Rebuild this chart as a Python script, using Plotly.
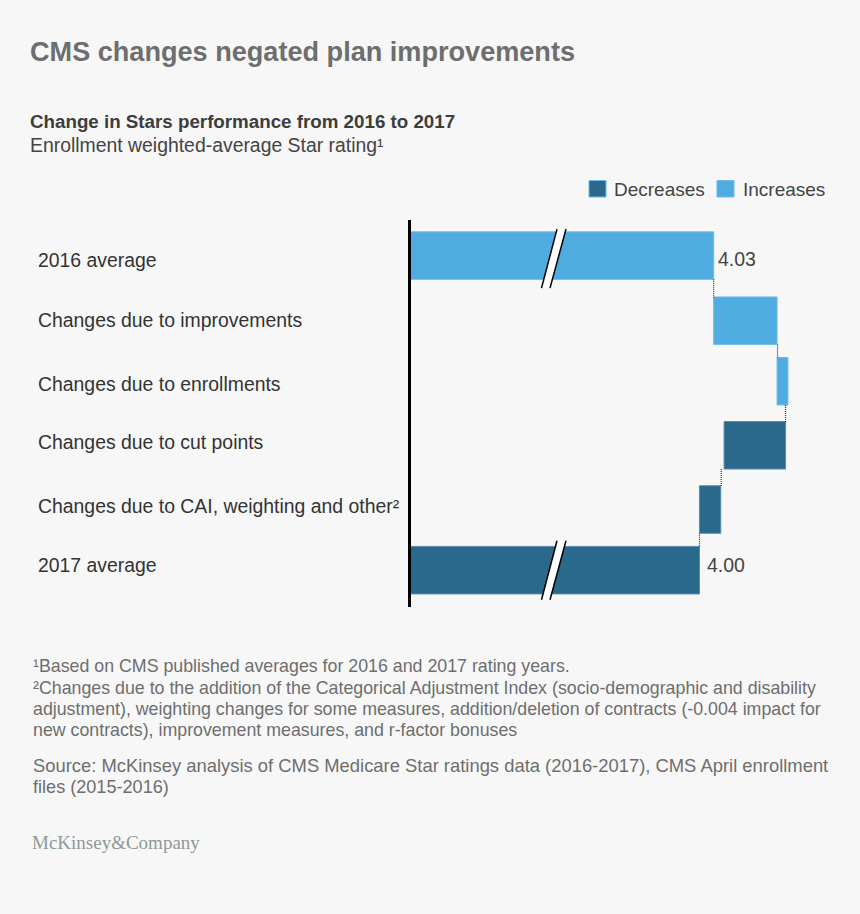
import plotly.graph_objects as go

# ---- data ----
categories = ["2016 average", "Changes due to improvements", "Changes due to enrollments",
              "Changes due to cut points", "Changes due to CAI, weighting and other²", "2017 average"]
bar_from = [3.388, 4.030, 4.164, 4.182, 4.045, 3.388]
bar_to = [4.030, 4.164, 4.187, 4.052, 4.000, 4.000]
series_names = ["Decreases", "Increases"]
value_labels = {0: "4.03", 5: "4.00"}
connector_values = [4.030, 4.165, 4.182, 4.046, 4.000]

# ---- layout constants (page pixels) ----
W, H = 860, 914
BG = "#f7f7f7"
LIGHT, DARK = "#4FACE1", "#2A688C"
LIGHT_EDGE, DARK_EDGE = "#6DBBE8", "#5A8CAB"
FONT = "Liberation Sans"
row_centers = [255.6, 320.7, 381.2, 445.3, 509.5, 570.2]
label_centers = [260, 320, 384, 442, 506, 565]
value_label_centers = {0: 259, 5: 565}
BAR_H = 47.5
X_LEFT, X_RIGHT = 411, 840
PX_PER_UNIT = 473.0
Y_TOP, Y_BOT = 220, 607
BASE_VALUE = bar_from[0]
x_range = [BASE_VALUE + (X_LEFT - 410) / PX_PER_UNIT, BASE_VALUE + (X_RIGHT - 410) / PX_PER_UNIT]


def px(x):
    return x / W


def py(y):
    return 1 - y / H


def text(x, y, s, size, color, family=FONT, anchor="left"):
    return dict(x=px(x), y=py(y), xref="paper", yref="paper", text=s, showarrow=False,
                xanchor=anchor, yanchor="middle", align="left",
                font=dict(family=family, size=size, color=color), borderpad=0, borderwidth=0)


fig = go.Figure()

# bars, one trace per legend colour
for name, color, edge in [(series_names[0], DARK, DARK_EDGE), (series_names[1], LIGHT, LIGHT_EDGE)]:
    idx = [i for i in range(len(categories)) if (bar_to[i] < bar_from[i] or i == 5) == (name == "Decreases")]
    fig.add_trace(go.Bar(
        orientation="h", name=name, showlegend=False,
        y=[row_centers[i] for i in idx],
        base=[min(bar_from[i], bar_to[i]) for i in idx],
        x=[abs(bar_to[i] - bar_from[i]) for i in idx],
        width=BAR_H,
        marker=dict(color=color, line=dict(color=edge, width=1)),
        hovertext=[categories[i] for i in idx], hoverinfo="text",
    ))

# dotted connectors between consecutive bars
for i, v in enumerate(connector_values):
    fig.add_trace(go.Scatter(
        x=[v, v], y=[row_centers[i] + BAR_H / 2, row_centers[i + 1] - BAR_H / 2 + 1],
        mode="lines", line=dict(color="#333333", width=1.2, dash="1px,1px"),
        showlegend=False, hoverinfo="skip",
    ))

shapes = []
# axis-break marks on the two long bars
for cy in (row_centers[0], row_centers[5]):
    top, bot = cy - 26.5, cy + 32.5
    if cy == row_centers[5]:
        top, bot = cy - 29.5, cy + 29.5
    shapes.append(dict(type="path", xref="paper", yref="paper",
                       path=f"M {px(541.5)} {py(bot)} L {px(557)} {py(top)} L {px(566)} {py(top)} L {px(550)} {py(bot)} Z",
                       fillcolor="#ffffff", line=dict(width=0)))
    for a, b in ((541.5, 557), (550, 566)):
        shapes.append(dict(type="line", xref="paper", yref="paper",
                           x0=px(a), y0=py(bot), x1=px(b), y1=py(top),
                           line=dict(color="#000000", width=1.5)))

# legend swatches
for x0, color, edge in [(589, DARK, LIGHT_EDGE), (717, LIGHT, LIGHT_EDGE)]:
    shapes.append(dict(type="rect", xref="paper", yref="paper",
                       x0=px(x0), x1=px(x0 + 17), y0=py(180.5), y1=py(197),
                       fillcolor=color, line=dict(color=edge, width=1)))

ann = [
    text(30, 51, "<b>CMS changes negated plan improvements</b>", 27.1, "#6E6E6E"),
    text(30, 122, "<b>Change in Stars performance from 2016 to 2017</b>", 18.75, "#3D3D3D"),
    text(30, 145, "Enrollment weighted-average Star rating¹", 19.4, "#444444"),
    text(613.5, 189, series_names[0], 19, "#444444"),
    text(743, 189, series_names[1], 19, "#444444"),
]
for c, y in zip(categories, label_centers):
    ann.append(text(38, y, c, 19.4, "#333333"))

# value labels attached to the bars
for i, s in value_labels.items():
    ann.append(dict(x=bar_to[i], y=value_label_centers[i], xref="x", yref="y", text=s, showarrow=False,
                    xanchor="left", yanchor="middle", xshift=2 if i == 0 else 6,
                    font=dict(family=FONT, size=19.5, color="#444444")))

foot = "#6E6E6E"
for y, s, size in [
    (666, "¹Based on CMS published averages for 2016 and 2017 rating years.", 17.8),
    (688, "²Changes due to the addition of the Categorical Adjustment Index (socio-demographic and disability", 17.8),
    (708.5, "adjustment), weighting changes for some measures, addition/deletion of contracts (-0.004 impact for", 17.8),
    (729.5, "new contracts), improvement measures, and r-factor bonuses", 17.8),
    (765.5, "Source: McKinsey analysis of CMS Medicare Star ratings data (2016-2017), CMS April enrollment", 18.4),
    (787, "files (2015-2016)", 18.1),
]:
    ann.append(text(33, y, s, size, foot))
ann.append(text(32, 842, "McKinsey&amp;Company", 19, "#8C9A98", family="Liberation Serif"))

fig.update_layout(
    width=W, height=H, margin=dict(l=0, r=0, t=0, b=0, pad=0),
    paper_bgcolor=BG, plot_bgcolor=BG, barmode="overlay", showlegend=False,
    xaxis=dict(domain=[X_LEFT / W, X_RIGHT / W], range=x_range, visible=False, fixedrange=True),
    yaxis=dict(domain=[1 - Y_BOT / H, 1 - Y_TOP / H], range=[Y_BOT, Y_TOP], showgrid=False, zeroline=False,
               showticklabels=False, ticks="", showline=True, linecolor="#000000", linewidth=3, fixedrange=True),
    shapes=shapes, annotations=ann, font=dict(family=FONT),
)

fig.write_html("out.html", config={"displayModeBar": False},
               post_script="document.body.style.margin='0';document.documentElement.style.overflow='hidden';")
